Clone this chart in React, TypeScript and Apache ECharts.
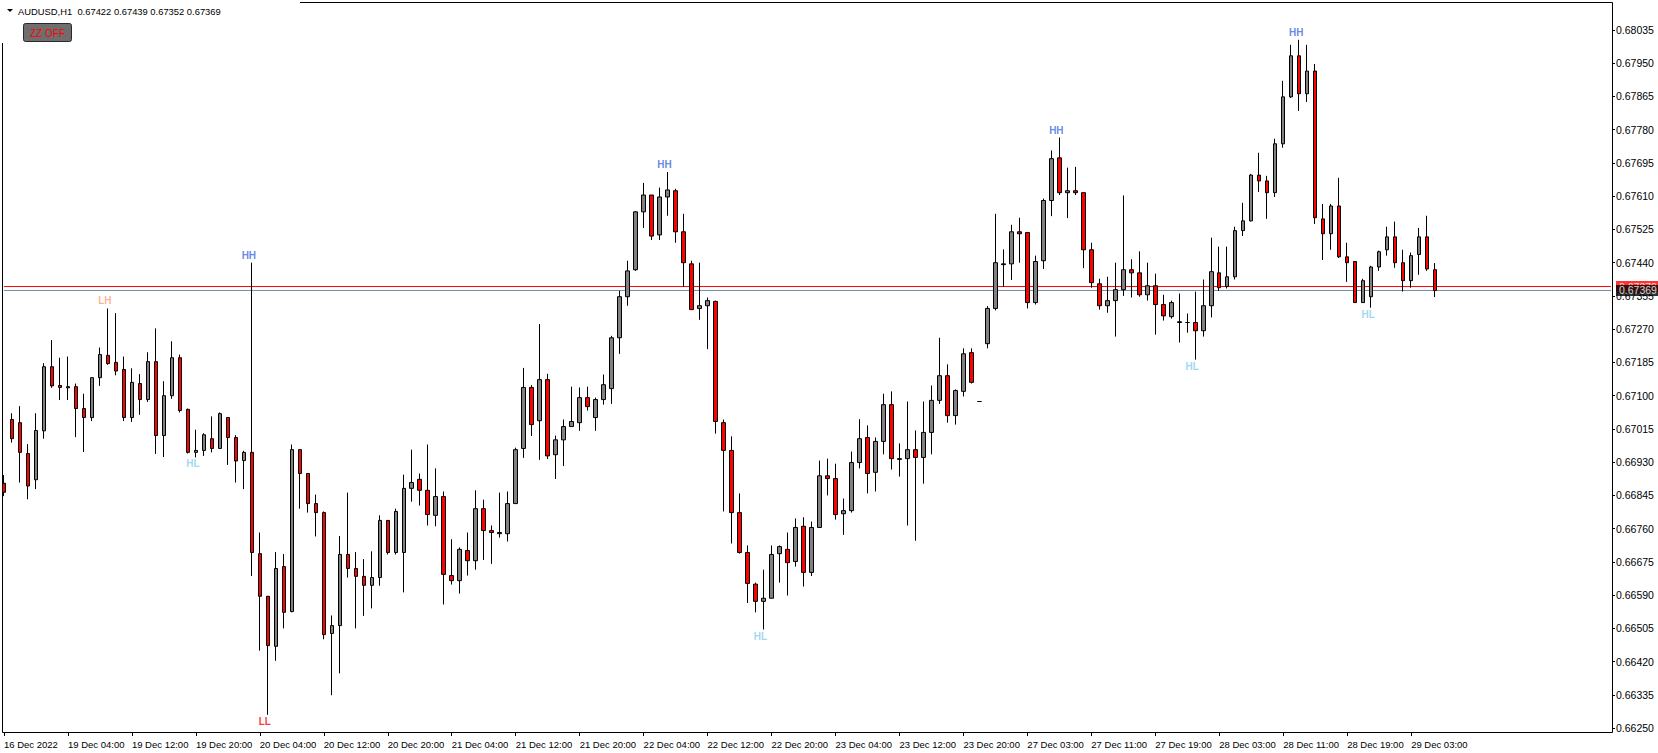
import React, { useEffect, useRef } from 'react';
import * as echarts from 'echarts';

// Trading sessions (day label, first hour, last hour) – one H1 bar per hour
const sessions: [string, number, number][] = [
  ['16 Dec 2022', 20, 23],
  ['19 Dec', 0, 23],
  ['20 Dec', 0, 23],
  ['21 Dec', 0, 23],
  ['22 Dec', 0, 23],
  ['23 Dec', 0, 23],
  ['26 Dec', 23, 23],
  ['27 Dec', 0, 23],
  ['28 Dec', 0, 23],
  ['29 Dec', 0, 6],
];

const timeLabels = [
  '16 Dec 2022', '19 Dec 04:00', '19 Dec 12:00', '19 Dec 20:00', '20 Dec 04:00', '20 Dec 12:00',
  '20 Dec 20:00', '21 Dec 04:00', '21 Dec 12:00', '21 Dec 20:00', '22 Dec 04:00', '22 Dec 12:00',
  '22 Dec 20:00', '23 Dec 04:00', '23 Dec 12:00', '23 Dec 20:00', '27 Dec 03:00', '27 Dec 11:00',
  '27 Dec 19:00', '28 Dec 03:00', '28 Dec 11:00', '28 Dec 19:00', '29 Dec 03:00',
];

const priceTicks = [
  0.6625, 0.66335, 0.6642, 0.66505, 0.6659, 0.66675, 0.6676, 0.66845, 0.6693, 0.67015, 0.671,
  0.67185, 0.6727, 0.67355, 0.6744, 0.67525, 0.6761, 0.67695, 0.6778, 0.67865, 0.6795, 0.68035,
];

const opens = [
  0.66876, 0.67039, 0.67031, 0.66952, 0.66885, 0.67010, 0.67174, 0.67126, 0.67123, 0.67123,
  0.67067, 0.67044, 0.67146, 0.67203, 0.67185, 0.67167, 0.67044, 0.67131, 0.67090, 0.67187,
  0.66998, 0.67100, 0.67197, 0.67065, 0.66955, 0.66960, 0.66990, 0.66965, 0.67044, 0.66993,
  0.66934, 0.66955, 0.66696, 0.66587, 0.66459, 0.66663, 0.66548, 0.66962, 0.66901, 0.66824,
  0.66801, 0.66492, 0.66512, 0.66694, 0.66658, 0.66638, 0.66615, 0.66635, 0.66781, 0.66699,
  0.66699, 0.66863, 0.66886, 0.66858, 0.66794, 0.66842, 0.66640, 0.66627, 0.66704, 0.66678,
  0.66811, 0.66755, 0.66750, 0.66747, 0.66824, 0.66965, 0.67121, 0.67036, 0.67141, 0.66949,
  0.66987, 0.67021, 0.67031, 0.67095, 0.67044, 0.67090, 0.67118, 0.67248, 0.67353, 0.67422,
  0.67570, 0.67613, 0.67511, 0.67608, 0.67624, 0.67519, 0.67437, 0.67323, 0.67330, 0.67341,
  0.67031, 0.66960, 0.66801, 0.66699, 0.66618, 0.66574, 0.66582, 0.66696, 0.66707, 0.66676,
  0.66766, 0.66648, 0.66763, 0.66895, 0.66888, 0.66798, 0.66806, 0.66929, 0.66993, 0.66904,
  0.66983, 0.67077, 0.66939, 0.66939, 0.66962, 0.66942, 0.67006, 0.67088, 0.67151, 0.67049,
  0.67111, 0.67210, 0.67085, 0.67233, 0.67323, 0.67437, 0.67437, 0.67519, 0.67517, 0.67338,
  0.67445, 0.67599, 0.67708, 0.67619, 0.67624, 0.67619, 0.67473, 0.67386, 0.67330, 0.67343,
  0.67371, 0.67422, 0.67414, 0.67358, 0.67381, 0.67333, 0.67302, 0.67289, 0.67287, 0.67287,
  0.67266, 0.67330, 0.67414, 0.67379, 0.67404, 0.67522, 0.67547, 0.67664, 0.67649, 0.67619,
  0.67744, 0.67864, 0.67969, 0.67872, 0.67930, 0.67552, 0.67514, 0.67585, 0.67455, 0.67443,
  0.67338, 0.67353, 0.67429, 0.67473, 0.67506, 0.67440, 0.67394, 0.67461, 0.67506, 0.67422,
];

const highs = [
  0.66897, 0.67055, 0.67073, 0.66976, 0.67055, 0.67183, 0.67242, 0.67197, 0.67200, 0.67131,
  0.67105, 0.67146, 0.67223, 0.67323, 0.67311, 0.67200, 0.67170, 0.67155, 0.67211, 0.67272,
  0.67137, 0.67239, 0.67205, 0.67067, 0.67013, 0.67004, 0.67047, 0.67057, 0.67044, 0.66999,
  0.66959, 0.67440, 0.66750, 0.66588, 0.66700, 0.66695, 0.66975, 0.66962, 0.66901, 0.66847,
  0.66804, 0.66538, 0.66741, 0.66852, 0.66700, 0.66682, 0.66702, 0.66794, 0.66781, 0.66811,
  0.66898, 0.66962, 0.66901, 0.66975, 0.66914, 0.66855, 0.66733, 0.66712, 0.66750, 0.66858,
  0.66834, 0.66768, 0.66852, 0.66855, 0.66967, 0.67171, 0.67127, 0.67283, 0.67156, 0.66998,
  0.67039, 0.67123, 0.67121, 0.67123, 0.67095, 0.67154, 0.67253, 0.67368, 0.67445, 0.67572,
  0.67644, 0.67613, 0.67632, 0.67672, 0.67629, 0.67565, 0.67445, 0.67440, 0.67351, 0.67343,
  0.67039, 0.66996, 0.66850, 0.66717, 0.66622, 0.66655, 0.66717, 0.66717, 0.66750, 0.66786,
  0.66789, 0.66778, 0.66934, 0.66939, 0.66926, 0.66837, 0.66957, 0.67040, 0.67024, 0.66993,
  0.67105, 0.67111, 0.66978, 0.67085, 0.67011, 0.67085, 0.67126, 0.67248, 0.67180, 0.67116,
  0.67221, 0.67221, 0.67085, 0.67329, 0.67565, 0.67474, 0.67537, 0.67555, 0.67517, 0.67458,
  0.67604, 0.67727, 0.67760, 0.67683, 0.67685, 0.67619, 0.67491, 0.67399, 0.67404, 0.67440,
  0.67612, 0.67449, 0.67469, 0.67440, 0.67412, 0.67358, 0.67343, 0.67361, 0.67310, 0.67366,
  0.67397, 0.67504, 0.67481, 0.67481, 0.67532, 0.67593, 0.67667, 0.67721, 0.67662, 0.67757,
  0.67905, 0.67997, 0.68010, 0.67997, 0.67948, 0.67590, 0.67590, 0.67657, 0.67491, 0.67443,
  0.67399, 0.67432, 0.67471, 0.67532, 0.67545, 0.67473, 0.67466, 0.67529, 0.67560, 0.67439,
];

const lows = [
  0.66843, 0.66980, 0.66878, 0.66835, 0.66861, 0.66990, 0.67120, 0.67089, 0.67089, 0.66994,
  0.66956, 0.67035, 0.67125, 0.67179, 0.67152, 0.67035, 0.67033, 0.67051, 0.67084, 0.66951,
  0.66943, 0.67092, 0.67057, 0.66952, 0.66942, 0.66946, 0.66955, 0.66965, 0.66923, 0.66878,
  0.66861, 0.66639, 0.66448, 0.66284, 0.66422, 0.66505, 0.66546, 0.66811, 0.66801, 0.66740,
  0.66477, 0.66334, 0.66390, 0.66635, 0.66505, 0.66537, 0.66556, 0.66614, 0.66694, 0.66694,
  0.66597, 0.66829, 0.66819, 0.66768, 0.66766, 0.66566, 0.66617, 0.66594, 0.66640, 0.66655,
  0.66680, 0.66670, 0.66737, 0.66727, 0.66824, 0.66941, 0.66997, 0.66936, 0.66938, 0.66887,
  0.66920, 0.67021, 0.67010, 0.67062, 0.67010, 0.67077, 0.67079, 0.67207, 0.67330, 0.67419,
  0.67529, 0.67498, 0.67498, 0.67560, 0.67491, 0.67378, 0.67320, 0.67294, 0.67219, 0.67003,
  0.66804, 0.66722, 0.66696, 0.66570, 0.66546, 0.66502, 0.66582, 0.66622, 0.66589, 0.66663,
  0.66612, 0.66639, 0.66763, 0.66845, 0.66783, 0.66744, 0.66801, 0.66914, 0.66850, 0.66855,
  0.66950, 0.66911, 0.66893, 0.66768, 0.66729, 0.66875, 0.66950, 0.67079, 0.67031, 0.67026,
  0.67098, 0.67131, 0.67085, 0.67221, 0.67318, 0.67378, 0.67396, 0.67440, 0.67323, 0.67333,
  0.67424, 0.67559, 0.67613, 0.67554, 0.67613, 0.67426, 0.67376, 0.67320, 0.67312, 0.67251,
  0.67355, 0.67351, 0.67353, 0.67343, 0.67256, 0.67292, 0.67297, 0.67236, 0.67261, 0.67192,
  0.67251, 0.67300, 0.67368, 0.67374, 0.67397, 0.67508, 0.67545, 0.67621, 0.67552, 0.67608,
  0.67734, 0.67861, 0.67828, 0.67851, 0.67539, 0.67447, 0.67473, 0.67452, 0.67391, 0.67338,
  0.67338, 0.67325, 0.67419, 0.67458, 0.67427, 0.67366, 0.67376, 0.67409, 0.67419, 0.67352,
];

const closes = [
  0.66853, 0.66990, 0.66955, 0.66869, 0.67011, 0.67174, 0.67125, 0.67121, 0.67120, 0.67067,
  0.67044, 0.67146, 0.67205, 0.67182, 0.67163, 0.67044, 0.67134, 0.67090, 0.67187, 0.66998,
  0.67100, 0.67197, 0.67062, 0.66955, 0.66960, 0.67000, 0.66965, 0.67054, 0.66993, 0.66933,
  0.66955, 0.66699, 0.66587, 0.66461, 0.66658, 0.66546, 0.66962, 0.66901, 0.66824, 0.66801,
  0.66489, 0.66512, 0.66694, 0.66658, 0.66638, 0.66615, 0.66635, 0.66781, 0.66699, 0.66804,
  0.66863, 0.66878, 0.66858, 0.66796, 0.66842, 0.66643, 0.66627, 0.66707, 0.66678, 0.66811,
  0.66755, 0.66750, 0.66747, 0.66824, 0.66962, 0.67121, 0.67026, 0.67141, 0.66946, 0.66987,
  0.67021, 0.67034, 0.67095, 0.67072, 0.67090, 0.67128, 0.67248, 0.67353, 0.67419, 0.67570,
  0.67613, 0.67508, 0.67608, 0.67626, 0.67519, 0.67440, 0.67320, 0.67330, 0.67343, 0.67034,
  0.66960, 0.66801, 0.66699, 0.66620, 0.66574, 0.66582, 0.66694, 0.66714, 0.66673, 0.66763,
  0.66648, 0.66763, 0.66895, 0.66888, 0.66796, 0.66806, 0.66929, 0.66990, 0.66901, 0.66983,
  0.67077, 0.66939, 0.66937, 0.66962, 0.66942, 0.67006, 0.67088, 0.67151, 0.67049, 0.67113,
  0.67207, 0.67134, 0.67085, 0.67323, 0.67440, 0.67435, 0.67519, 0.67514, 0.67338, 0.67443,
  0.67599, 0.67706, 0.67619, 0.67624, 0.67619, 0.67473, 0.67389, 0.67330, 0.67343, 0.67371,
  0.67422, 0.67414, 0.67358, 0.67381, 0.67333, 0.67304, 0.67338, 0.67287, 0.67287, 0.67266,
  0.67330, 0.67417, 0.67376, 0.67404, 0.67522, 0.67547, 0.67664, 0.67649, 0.67619, 0.67744,
  0.67864, 0.67969, 0.67872, 0.67930, 0.67555, 0.67514, 0.67585, 0.67455, 0.67440, 0.67338,
  0.67394, 0.67429, 0.67468, 0.67506, 0.67440, 0.67394, 0.67458, 0.67506, 0.67424, 0.67369,
];

// ZigZag swing labels: bar index and tag
const pivotBars = [13, 24, 31, 33, 83, 95, 132, 149, 162, 171];
const pivotTags = ['LH', 'HL', 'HH', 'LL', 'HH', 'HL', 'HH', 'HL', 'HH', 'HL'];
const tagColors: Record<string, string> = { HH: '#4169E1', HL: '#87CEEB', LH: '#FFA07A', LL: '#FF0000' };

const bidPrice = 0.67369;
const askPrice = 0.67379;
const symbolTitle = 'AUDUSD,H1  0.67422 0.67439 0.67352 0.67369';

const pad2 = (n: number) => (n < 10 ? '0' + n : '' + n);
const categories: string[] = [];
sessions.forEach(([day, h0, h1]) => {
  for (let h = h0; h <= h1; h++) categories.push(day + ' ' + pad2(h) + ':00');
});
const TOTAL_SLOTS = 202;
while (categories.length < TOTAL_SLOTS) categories.push('');
const LAST_SLOT = TOTAL_SLOTS - 1;

const FONT = 'Liberation Sans, Arial, sans-serif';

export default function App() {
  const ref = useRef<HTMLDivElement>(null);
  useEffect(() => {
    if (!ref.current) return;
    const chart = echarts.init(ref.current, undefined, { renderer: 'svg' });
    const candleData = opens.map((o, i) => [o, closes[i], lows[i], highs[i]]);
    const pivotData = pivotBars.map((b, k) => {
      const tag = pivotTags[k];
      const up = tag === 'HH' || tag === 'LH';
      return {
        value: [b, up ? highs[b] : lows[b]],
        label: {
          show: true,
          formatter: tag,
          color: tagColors[tag],
          position: up ? 'top' : 'bottom',
          distance: up ? 2 : 1,
        },
      };
    });
    const priceLine = (price: number, color: string) => ({
      type: 'line',
      data: [[0, price], [LAST_SLOT, price]],
      symbol: 'none',
      lineStyle: { color, width: 1, type: 'solid' },
      silent: true,
      z: 3,
    });
    const priceTag = (price: number, bg: string, z: number) => ({
      type: 'scatter',
      data: [[LAST_SLOT, price]],
      symbol: 'circle',
      symbolSize: 1,
      itemStyle: { color: 'rgba(0,0,0,0)' },
      silent: true,
      z,
      label: {
        show: true,
        position: 'right',
        distance: 4.5,
        formatter: price.toFixed(5),
        color: '#ffffff',
        backgroundColor: bg,
        fontSize: 10.5,
        fontFamily: FONT,
        lineHeight: 11,
        padding: [0, 8, 0, 3],
      },
    });
    const tickShown = (idx: number) => idx % 8 === 0 && idx / 8 < timeLabels.length;
    const option: any = {
      animation: false,
      backgroundColor: '#ffffff',
      grid: { left: -1, top: 3, width: 1616, bottom: 21, containLabel: false },
      xAxis: {
        type: 'category',
        data: categories,
        boundaryGap: true,
        axisLine: { show: false },
        axisTick: {
          show: true,
          alignWithLabel: true,
          interval: (idx: number) => tickShown(idx),
          length: 4,
          lineStyle: { color: '#000', width: 1 },
        },
        axisLabel: {
          show: true,
          interval: (idx: number) => tickShown(idx),
          formatter: (_v: string, idx: number) => (tickShown(idx) ? timeLabels[idx / 8] : ''),
          align: 'left',
          color: '#000',
          fontSize: 9.5,
          fontFamily: FONT,
          margin: 7,
        },
        splitLine: { show: false },
      },
      yAxis: {
        type: 'value',
        position: 'right',
        offset: -3,
        min: 0.6624,
        max: 0.68104,
        axisLine: { show: false },
        axisTick: { show: true, customValues: priceTicks, length: 3, lineStyle: { color: '#000', width: 1 } },
        axisLabel: {
          show: true,
          customValues: priceTicks,
          formatter: (v: number) => v.toFixed(5),
          color: '#000',
          fontSize: 10.5,
          fontFamily: FONT,
          margin: 4,
        },
        splitLine: { show: false },
      },
      series: [
        priceLine(askPrice, '#ff0000'),
        priceLine(bidPrice, '#778899'),
        {
          type: 'candlestick',
          data: candleData,
          barWidth: 4,
          z: 4,
          itemStyle: {
            color: '#808080',
            color0: '#ff0000',
            borderColor: '#000000',
            borderColor0: '#000000',
            borderWidth: 1,
          },
        },
        {
          type: 'scatter',
          data: pivotData,
          symbol: 'circle',
          symbolSize: 1,
          itemStyle: { color: 'rgba(0,0,0,0)' },
          label: {
            show: true,
            fontSize: 10,
            fontWeight: 'bold',
            fontFamily: FONT,
            lineHeight: 10,
            offset: [-3, 0],
          },
          silent: true,
          z: 5,
        },
        priceTag(askPrice, '#ff0000', 6),
        priceTag(bidPrice, '#000000', 7),
      ],
      graphic: [
        {
          type: 'rect',
          shape: { x: 2.5, y: 2.5, width: 1610, height: 730 },
          style: { fill: 'none', stroke: '#000000', lineWidth: 1 },
          silent: true,
          z: 10,
        },
        {
          type: 'rect',
          shape: { x: 0, y: 0, width: 300, height: 43 },
          style: { fill: '#ffffff' },
          silent: true,
          z: 10.5,
        },
        {
          type: 'polygon',
          shape: { points: [[7, 9], [13, 9], [10, 12]] },
          style: { fill: '#000000' },
          z: 11,
        },
        {
          type: 'text',
          x: 18,
          y: 11,
          style: {
            text: symbolTitle,
            fill: '#000000',
            font: '9.4px ' + FONT,
            textVerticalAlign: 'middle',
          },
          z: 11,
        },
        {
          type: 'rect',
          shape: { x: 23.5, y: 23.5, width: 48, height: 18, r: 2 },
          style: { fill: '#6e6e6e', stroke: '#2a2a2a', lineWidth: 1 },
          z: 11,
        },
        {
          type: 'text',
          x: 47.5,
          y: 33,
          style: {
            text: 'ZZ OFF',
            fill: '#ff0000',
            font: '10px ' + FONT,
            textAlign: 'center',
            textVerticalAlign: 'middle',
          },
          z: 12,
        },
      ],
    };
    chart.setOption(option);
    return () => chart.dispose();
  }, []);
  return (
    <div
      ref={ref}
      style={{ position: 'fixed', left: 0, top: 0, width: 1658, height: 753, background: '#fff' }}
    />
  );
}
